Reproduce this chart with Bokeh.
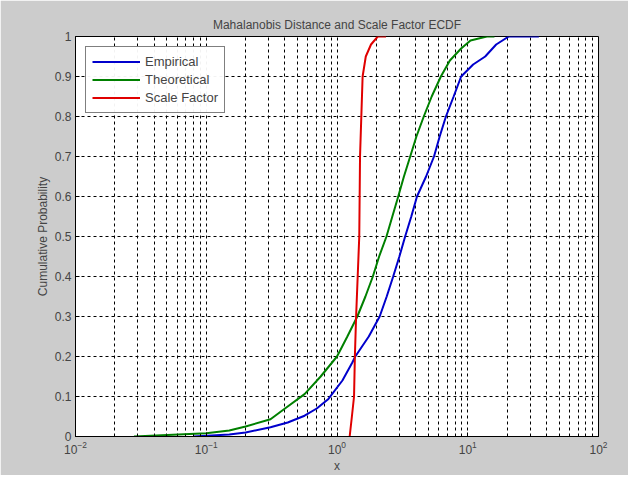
from bokeh.plotting import figure
from bokeh.models import Legend, LegendItem, FixedTicker, Range1d
from bokeh.embed import file_html
from bokeh.resources import INLINE

emp_x = [0.08, 0.15, 0.2, 0.31, 0.42, 0.565, 0.7, 0.86, 1.1, 1.31, 1.38, 1.75, 2.12, 2.4, 2.69, 3.0, 3.32, 3.7, 4.09, 4.8, 5.52, 6.1, 6.81, 7.8, 8.9, 11, 13.6, 16.5, 20.6, 35]
emp_y = [0.0, 0.005, 0.01, 0.023, 0.035, 0.052, 0.07, 0.094, 0.14, 0.185, 0.2, 0.25, 0.3, 0.35, 0.4, 0.45, 0.5, 0.55, 0.6, 0.65, 0.7, 0.75, 0.8, 0.85, 0.9, 0.93, 0.95, 0.98, 1.0, 1.0]
the_x = [0.028, 0.1, 0.15, 0.2, 0.31, 0.4, 0.565, 0.75, 1.0, 1.2, 1.43, 1.65, 1.88, 2.1, 2.39, 2.65, 2.94, 3.25, 3.63, 4.05, 4.61, 5.3, 6.23, 7.3, 8.9, 10.5, 14, 16]
the_y = [0.0, 0.008, 0.015, 0.025, 0.043, 0.07, 0.106, 0.15, 0.2, 0.25, 0.3, 0.35, 0.4, 0.45, 0.5, 0.55, 0.6, 0.65, 0.7, 0.75, 0.8, 0.85, 0.9, 0.94, 0.97, 0.99, 1.0, 1.0]
sf_x = [1.25, 1.30, 1.35, 1.37, 1.40, 1.48, 1.50, 1.57, 1.66, 1.82, 2.05, 2.37]
sf_y = [0.0, 0.05, 0.1, 0.2, 0.3, 0.5, 0.7, 0.9, 0.95, 0.98, 1.0, 1.0]

p = figure(width=628, height=475, x_axis_type="log", output_backend="svg", toolbar_location=None,
           x_range=Range1d(1e-2, 1e2), y_range=Range1d(0, 1),
           title="Mahalanobis Distance and Scale Factor ECDF",
           min_border_left=75, min_border_right=30, min_border_top=36, min_border_bottom=38)
p.background_fill_color = "white"
p.border_fill_color = "#cccccc"
p.outline_line_color = "black"
p.title.align = "center"
p.title.text_font = "Arial"
p.title.text_font_style = "normal"
p.title.text_font_size = "12px"
p.xaxis.axis_label = "x"
p.yaxis.axis_label = "Cumulative Probability"
for ax in (p.xaxis[0], p.yaxis[0]):
    ax.axis_label_text_font_style = "normal"
    ax.axis_label_text_font_size = "12px"
    ax.axis_label_text_font = "Arial"
    ax.major_label_text_font_size = "12px"
    ax.major_label_text_font = "Arial"
    ax.axis_label_standoff = 2
    ax.major_label_standoff = 4
    ax.major_tick_in = 4
    ax.major_tick_out = 0
    ax.minor_tick_in = 2
    ax.minor_tick_out = 0
    ax.axis_line_color = "black"
p.yaxis.ticker = FixedTicker(ticks=[i / 10 for i in range(11)])
p.xaxis.ticker = FixedTicker(ticks=[1e-2, 1e-1, 1, 10, 100],
                             minor_ticks=[m * 10.0 ** e for e in range(-2, 2) for m in range(2, 10)])
for g in (p.xgrid[0], p.ygrid[0]):
    g.grid_line_color = "black"
    g.grid_line_dash = "3 3"
    g.grid_line_width = 1
p.xgrid.minor_grid_line_color = "black"
p.xgrid.minor_grid_line_dash = "3 3"

r1 = p.line(emp_x, emp_y, line_color="#0000cc", line_width=2)
r2 = p.line(the_x, the_y, line_color="#008000", line_width=2)
r3 = p.line(sf_x, sf_y, line_color="#e00000", line_width=2)
leg = Legend(items=[LegendItem(label="Empirical", renderers=[r1]),
                    LegendItem(label="Theoretical", renderers=[r2]),
                    LegendItem(label="Scale Factor", renderers=[r3])],
             location="top_left", border_line_color="black", background_fill_color="white",
             label_text_font="Arial", label_text_font_size="13px", spacing=1, padding=6,
             glyph_width=48, label_height=17, glyph_height=17, margin=10)
p.add_layout(leg)

open("out.html", "w").write(file_html(p, INLINE))
